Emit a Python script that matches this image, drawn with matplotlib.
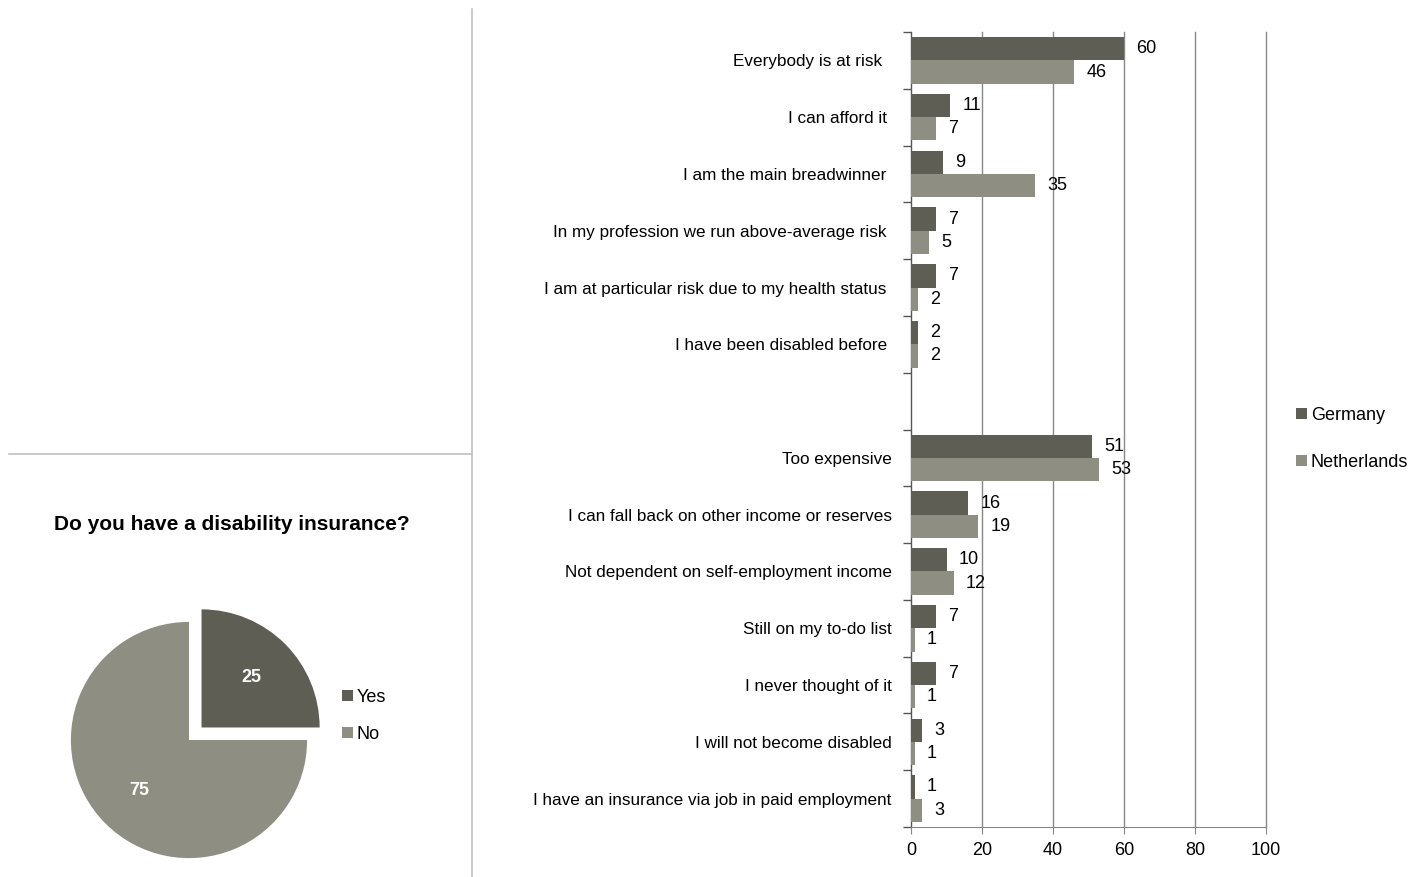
import numpy as np
import matplotlib
matplotlib.use("Agg")
import matplotlib.pyplot as plt
from matplotlib.lines import Line2D

plt.rcParams['font.family'] = ['Liberation Sans Narrow', 'Liberation Sans', 'DejaVu Sans']

# reasons for / against having a disability insurance (% of respondents)
reasons = [
    "Everybody is at risk  ",
    "I can afford it ",
    "I am the main breadwinner ",
    "In my profession we run above-average risk ",
    "I am at particular risk due to my health status ",
    "I have been disabled before ",
    "Too expensive",
    "I can fall back on other income or reserves",
    "Not dependent on self-employment income",
    "Still on my to-do list",
    "I never thought of it",
    "I will not become disabled",
    "I have an insurance via job in paid employment",
]
germany = [60, 11, 9, 7, 7, 2, 51, 16, 10, 7, 7, 3, 1]
netherlands = [46, 7, 35, 5, 2, 2, 53, 19, 12, 1, 1, 1, 3]

pie_labels = ["Yes", "No"]
pie_values = [25, 75]

dark = "#5e5e54"
light = "#8e8e82"

fig = plt.figure(figsize=(14.16, 8.77), dpi=100)
W, H = 1416, 877

# ---- bar chart ----
ax = fig.add_axes([911 / W, 1 - 827 / H, 355 / W, 795 / H])
pos = np.array(list(range(6)) + list(range(7, 14)))
bh = 0.41
b1 = ax.barh(pos - bh / 2, germany, height=bh, color=dark, label="Germany", zorder=3)
b2 = ax.barh(pos + bh / 2, netherlands, height=bh, color=light, label="Netherlands", zorder=3)
ax.bar_label(b1, padding=9, fontsize=13)
ax.bar_label(b2, padding=9, fontsize=13)

ax.set_xlim(0, 100)
ax.set_ylim(13.5, -0.5)
ax.set_xticks(np.arange(0, 101, 20))
ax.set_yticks(pos)
ax.set_yticklabels(reasons, fontsize=12.3)
ax.set_yticks(np.arange(-0.5, 14, 1), minor=True)
ax.tick_params(axis='y', which='major', length=0, pad=14)
ax.tick_params(axis='y', which='minor', length=6, color='#555555', width=1)
ax.tick_params(axis='x', length=5, color='#888888', labelsize=13, pad=6)
ax.grid(axis='x', color='#888888', linewidth=1, zorder=0)
for gl in ax.get_xgridlines():
    gl.set_clip_on(False)
for s in ['top', 'right']:
    ax.spines[s].set_visible(False)
ax.spines['left'].set_color('#555555')
ax.spines['bottom'].set_color('#888888')

fig.legend(handles=[b1, b2], loc='center left', bbox_to_anchor=(1280 / W, 1 - 439 / H),
           frameon=False, fontsize=13, handlelength=0.6, handleheight=0.6,
           handletextpad=0.2, labelspacing=1.65)

# ---- pie chart ----
pax = fig.add_axes([(189 - 150) / W, (H - 740 - 150) / H, 300 / W, 300 / H])
wedges, texts, autotexts = pax.pie(
    pie_values, colors=[dark, light], startangle=90, counterclock=False,
    explode=[0.15, 0], autopct=lambda p: f"{p:.0f}", pctdistance=0.6,
    textprops=dict(color='white', fontsize=13, fontweight='bold'))
pax.set_xlim(-1.27, 1.27)
pax.set_ylim(-1.27, 1.27)
pax.set_aspect('equal')
pax.legend(wedges, pie_labels, loc='center left', bbox_to_anchor=(326 / W, 1 - 716 / H),
           bbox_transform=fig.transFigure, frameon=False, fontsize=13,
           handlelength=0.6, handleheight=0.6, handletextpad=0.2, labelspacing=1.1)

fig.text(232 / W, 1 - 524 / H, "Do you have a disability insurance?", ha='center', va='center',
         fontsize=15, fontweight='bold')

# panel separators
fig.add_artist(Line2D([472 / W, 472 / W], [0, 1 - 9 / H], transform=fig.transFigure,
                      color='#c0c0c0', linewidth=1.2))
fig.add_artist(Line2D([9 / W, 472 / W], [1 - 454 / H, 1 - 454 / H], transform=fig.transFigure,
                      color='#c0c0c0', linewidth=1.2))

fig.savefig("out.png", dpi=100, facecolor='white')
